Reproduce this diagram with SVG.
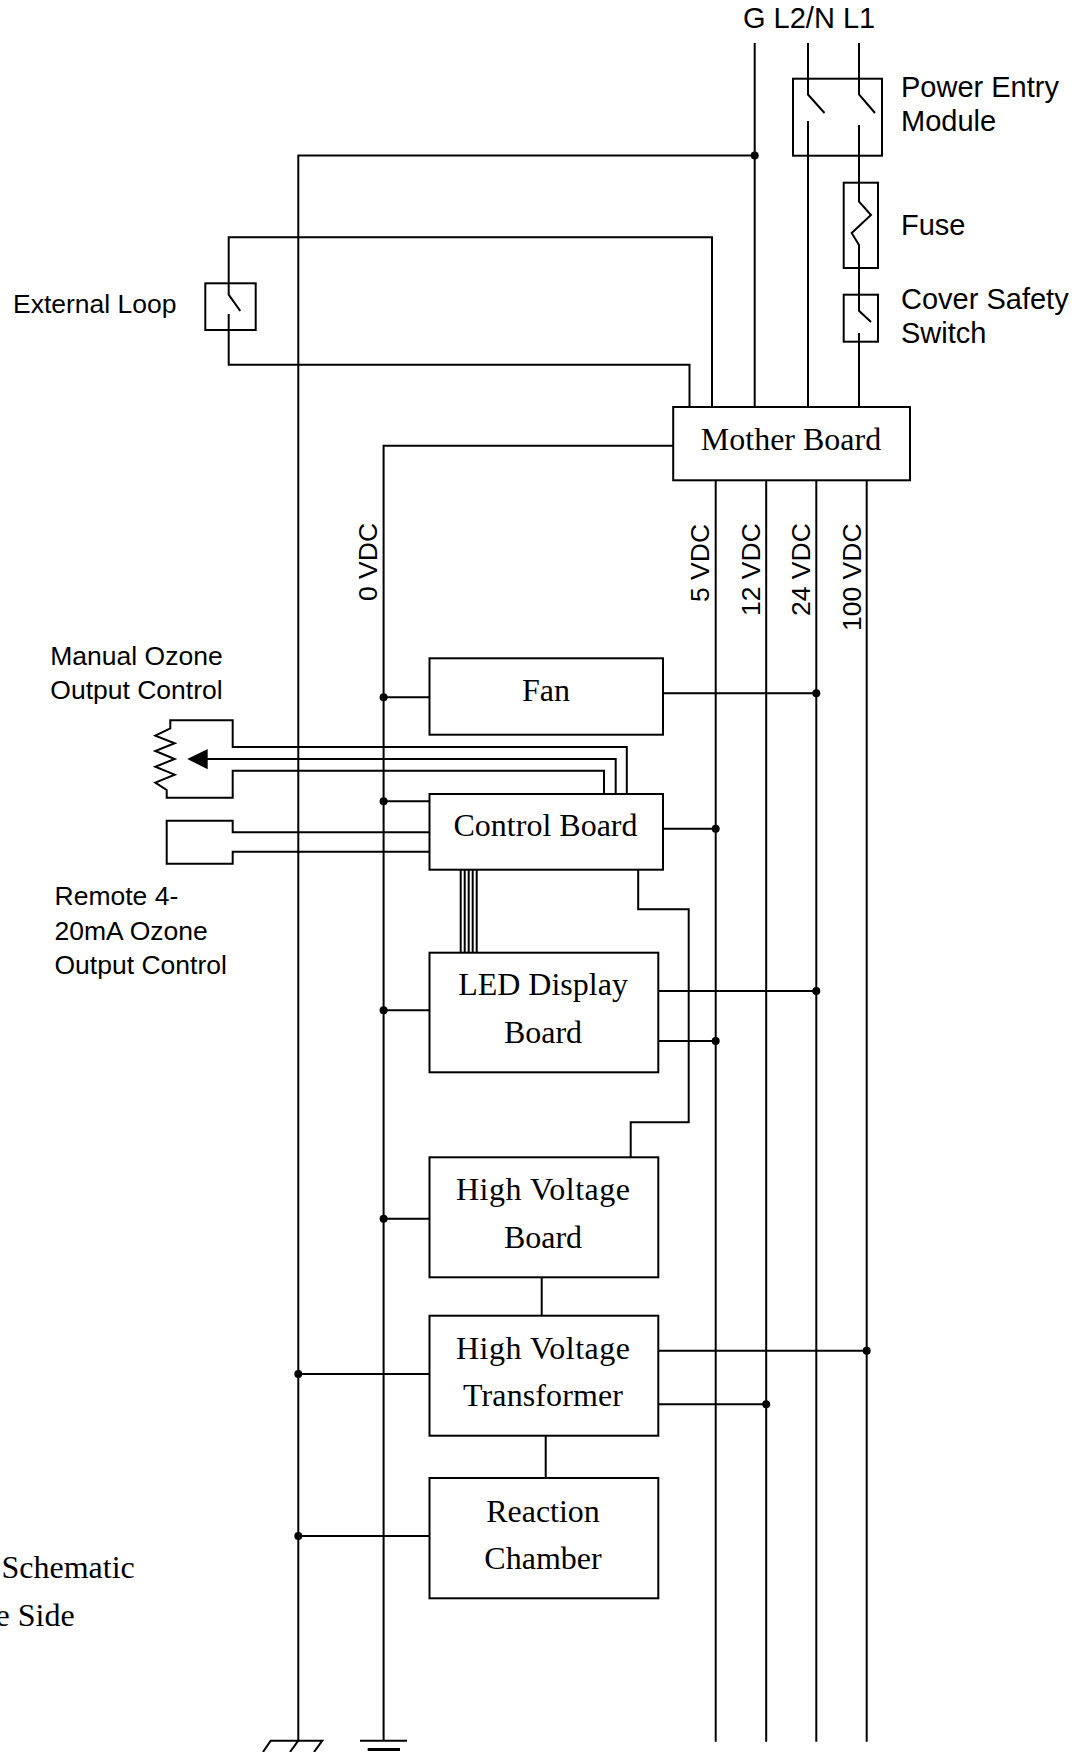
<svg xmlns="http://www.w3.org/2000/svg" width="1084" height="1752" viewBox="0 0 1084 1752">
<style>
.w{fill:none;stroke:#000;stroke-width:2}
.b{fill:#fff;stroke:#000;stroke-width:2}
.o{fill:none;stroke:#000;stroke-width:2}
.d{fill:#000}
.s{font-family:"Liberation Serif","Times New Roman",serif;font-size:32px;fill:#000;text-anchor:middle}
.a{font-family:"Liberation Sans",Arial,sans-serif;font-size:29px;fill:#000}
.m{font-family:"Liberation Sans",Arial,sans-serif;font-size:26.5px;fill:#000}
</style>
<rect width="1084" height="1752" fill="#fff"/>
<g id="connectors">
<path class="w" d="M754.7 43V407M808 43V94.5L824.5 113M808 121V407M859 43V94.5L875 113M859 125V201.7L871 215L851.7 233L859 245V310.7L871 322M859 333V407"/>
<path class="w" d="M754.7 155.5H298.3V1740.7"/>
<path class="w" d="M712 407V237.3H228.7V294.7L240.3 311M228.7 314V364.7H689.5V407"/>
<path class="w" d="M673 445.7H383.6V1740.7"/>
<path class="w" d="M715.7 480V1741.7M766.2 480V1741.7M816.3 480V1741.7M866.7 480V1741.7"/>
<path class="w" d="M383.6 697.3H429.5M383.6 801.3H429.5M383.6 1010.3H429.5M383.6 1218.7H429.5M298.3 1374H429.5M298.3 1536H429.5"/>
<path class="w" d="M663 693.3H816.3M663 828.7H715.7M658.3 991H816.3M658.3 1041H715.7M658.3 1350.7H866.7M658.3 1404.3H766.2"/>
<path class="w" d="M626.8 794V747H232.7V720.3H170.3V728.3L155.3 735.7L174.7 743.3L155.3 751L174.7 759L155.3 766.7L174.7 774.7L155.3 782.7L166.7 790V797.7H232.7V770.7H604V794"/>
<path class="w" d="M615.7 794V759H207"/>
<path class="d" d="M187.3 759L207.7 749V769.3Z"/>
<path class="w" d="M429.5 832.3H232.7V820.7H166.7V863.7H232.7V851.7H429.5"/>
<path class="w" d="M460.7 870V952.7M464.7 870V952.7M468.7 870V952.7M472.7 870V952.7M476.7 870V952.7"/>
<path class="w" d="M638.2 870V909.3H688.7V1122.3H630.7V1157.3"/>
<path class="w" d="M541.7 1277.3V1315.7M545.7 1435.7V1478"/>
<circle class="d" cx="754.7" cy="155.5" r="4"/>
<circle class="d" cx="383.6" cy="697.3" r="4"/>
<circle class="d" cx="383.6" cy="801.3" r="4"/>
<circle class="d" cx="383.6" cy="1010.3" r="4"/>
<circle class="d" cx="383.6" cy="1218.7" r="4"/>
<circle class="d" cx="298.3" cy="1374" r="4"/>
<circle class="d" cx="298.3" cy="1536" r="4"/>
<circle class="d" cx="816.3" cy="693.3" r="4"/>
<circle class="d" cx="715.7" cy="828.7" r="4"/>
<circle class="d" cx="816.3" cy="991" r="4"/>
<circle class="d" cx="715.7" cy="1041" r="4"/>
<circle class="d" cx="866.7" cy="1350.7" r="4"/>
<circle class="d" cx="766.2" cy="1404.3" r="4"/>
</g>
<g id="power-entry-module"><rect class="o" x="793" y="78.7" width="89" height="77"/><text class="a" x="901" y="97">Power Entry</text><text class="a" x="901" y="131">Module</text></g>
<g id="fuse"><rect class="o" x="843.7" y="182.7" width="34.3" height="85.3"/><text class="a" x="901" y="235">Fuse</text></g>
<g id="cover-safety-switch"><rect class="o" x="843.7" y="294.7" width="34.3" height="47"/><text class="a" x="901" y="309.3">Cover Safety</text><text class="a" x="901" y="343">Switch</text></g>
<g id="external-loop"><rect class="o" x="205.3" y="283.3" width="50.4" height="46.7"/><text class="m" x="13" y="312.5">External Loop</text></g>
<g id="mother-board"><rect class="b" x="673.2" y="407" width="236.8" height="73.3"/><text class="s" x="791" y="450">Mother Board</text></g>
<g id="fan"><rect class="b" x="429.5" y="658.3" width="233.5" height="76.4"/><text class="s" x="546" y="701">Fan</text></g>
<g id="control-board"><rect class="b" x="429.5" y="794" width="233.5" height="75.7"/><text class="s" x="545.5" y="835.7">Control Board</text></g>
<g id="led-display-board"><rect class="b" x="429.5" y="952.7" width="228.8" height="119.6"/><text class="s" x="543" y="995">LED Display</text><text class="s" x="543" y="1043">Board</text></g>
<g id="high-voltage-board"><rect class="b" x="429.5" y="1157.3" width="228.8" height="120"/><text class="s" x="543" y="1199.7" textLength="174" lengthAdjust="spacing">High Voltage</text><text class="s" x="543" y="1248">Board</text></g>
<g id="high-voltage-transformer"><rect class="b" x="429.5" y="1315.7" width="228.8" height="120"/><text class="s" x="543" y="1358.7" textLength="174" lengthAdjust="spacing">High Voltage</text><text class="s" x="543" y="1406" textLength="160" lengthAdjust="spacing">Transformer</text></g>
<g id="reaction-chamber"><rect class="b" x="429.5" y="1478" width="228.8" height="120.3"/><text class="s" x="543" y="1522">Reaction</text><text class="s" x="543" y="1569">Chamber</text></g>
<g id="chassis-ground"><path class="w" d="M263 1752L270.7 1740.7H322.3L314 1752M298.3 1740.7L290 1752"/></g>
<g id="signal-ground"><path class="w" d="M360 1740.7H407"/><path class="w" style="stroke-width:3" d="M367.7 1749.5H400"/></g>
<g id="labels">
<text class="a" x="743" y="28.3">G L2/N L1</text>
<text class="m" x="50.3" y="665">Manual Ozone</text>
<text class="m" x="50.3" y="699">Output Control</text>
<text class="m" x="54.5" y="905">Remote 4-</text>
<text class="m" x="54.5" y="940">20mA Ozone</text>
<text class="m" x="54.5" y="974">Output Control</text>
<text class="m" transform="translate(376.8 601) rotate(-90)">0 VDC</text>
<text class="m" transform="translate(709.3 602) rotate(-90)">5 VDC</text>
<text class="m" transform="translate(759.6 616) rotate(-90)">12 VDC</text>
<text class="m" transform="translate(810 616) rotate(-90)">24 VDC</text>
<text class="m" transform="translate(860.7 631) rotate(-90)">100 VDC</text>
<text class="s" x="1.5" y="1578" style="text-anchor:start">Schematic</text>
<text class="s" x="-4.5" y="1625.7" style="text-anchor:start">e Side</text>
</g>
</svg>
